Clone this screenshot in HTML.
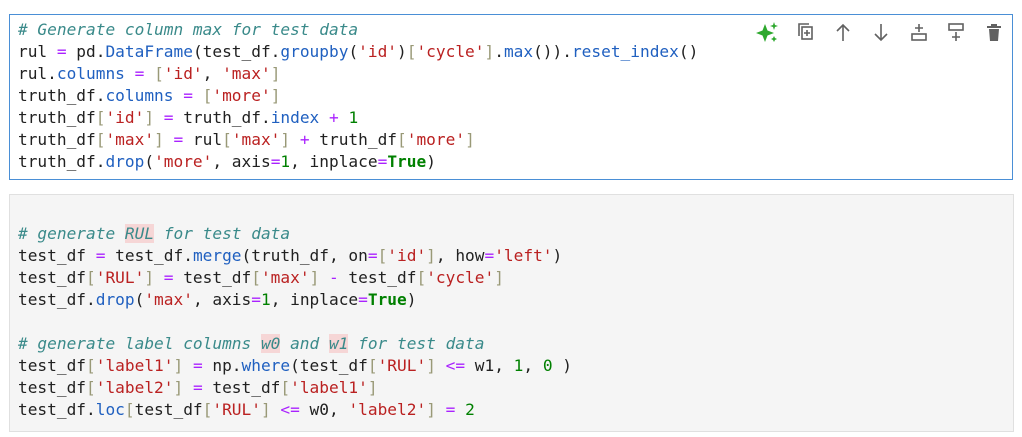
<!DOCTYPE html>
<html><head><style>
body{margin:0;width:1022px;height:437px;background:#fff;position:relative;overflow:hidden;font-family:"DejaVu Sans Mono","Liberation Mono",monospace;}
.c1{position:absolute;left:9px;top:14px;width:1002px;height:164px;border:1.5px solid #4a8fd6;background:#fff;}
.c2{position:absolute;left:9px;top:194px;width:1003px;height:236px;border:1px solid #e0e0e0;background:#f5f5f5;}
pre{margin:0;position:absolute;left:8px;font-family:inherit;font-size:16.15px;line-height:22px;color:#212121;}
.k{color:#3a8a8a;font-style:italic}
.o{color:#aa22ff}
.s{color:#ba2121}
.b{color:#999977}
.f{color:#2060c0}
.n{color:#008000}
.t{color:#008000;font-weight:bold}
.h{background:#f6d6d6}
</style></head><body>
<div class="c1">
<pre style="top:4px"><span class="k"># Generate column max for test data</span>
rul <span class="o">=</span> pd.<span class="f">DataFrame</span>(test_df.<span class="f">groupby</span>(<span class="s">'id'</span>)<span class="b">[</span><span class="s">'cycle'</span><span class="b">]</span>.<span class="f">max</span>()).<span class="f">reset_index</span>()
rul.<span class="f">columns</span> <span class="o">=</span> <span class="b">[</span><span class="s">'id'</span>, <span class="s">'max'</span><span class="b">]</span>
truth_df.<span class="f">columns</span> <span class="o">=</span> <span class="b">[</span><span class="s">'more'</span><span class="b">]</span>
truth_df<span class="b">[</span><span class="s">'id'</span><span class="b">]</span> <span class="o">=</span> truth_df.<span class="f">index</span> <span class="o">+</span> <span class="n">1</span>
truth_df<span class="b">[</span><span class="s">'max'</span><span class="b">]</span> <span class="o">=</span> rul<span class="b">[</span><span class="s">'max'</span><span class="b">]</span> <span class="o">+</span> truth_df<span class="b">[</span><span class="s">'more'</span><span class="b">]</span>
truth_df.<span class="f">drop</span>(<span class="s">'more'</span>, axis<span class="o">=</span><span class="n">1</span>, inplace<span class="o">=</span><span class="t">True</span>)</pre>
<svg style="position:absolute;left:745px;top:6px" width="250" height="22" viewBox="0 0 250 22">
<g fill="#2ea82e"><path d="M10 3 L12.5 9.5 L19 12 L12.5 14.5 L10 21 L7.5 14.5 L1 12 L7.5 9.5Z"/><path d="M19 1 L20 4 L23 5 L20 6 L19 9 L18 6 L15 5 L18 4Z"/><path d="M19 15 L20 17 L22 18 L20 19 L19 21 L18 19 L16 18 L18 17Z"/></g>
<g fill="none" stroke="#616161" stroke-width="1.6">
<rect x="47" y="6" width="10" height="12"/><path d="M44 15 V3 H54"/><path d="M52 9 v6 M49 12 h6"/>
<path d="M88 20 V4 M82 10 L88 4 L94 10"/>
<path d="M126 3 V19 M120 13 L126 19 L132 13"/>
<rect x="157" y="13" width="14" height="6"/><path d="M164 3 v8 M160 7 h8"/>
<rect x="194" y="3" width="14" height="6"/><path d="M201 11 v9 M197 16 h8"/>
</g>
<path fill="#616161" d="M236 3 h6 v2 h4 v2 h-14 v-2 h4z M234 8 h10 l-1 12 h-8z"/>
</svg>
</div>
<div class="c2">
<pre style="top:28px"><span class="k"># generate <span class="h">RUL</span> for test data</span>
test_df <span class="o">=</span> test_df.<span class="f">merge</span>(truth_df, on<span class="o">=</span><span class="b">[</span><span class="s">'id'</span><span class="b">]</span>, how<span class="o">=</span><span class="s">'left'</span>)
test_df<span class="b">[</span><span class="s">'RUL'</span><span class="b">]</span> <span class="o">=</span> test_df<span class="b">[</span><span class="s">'max'</span><span class="b">]</span> <span class="o">-</span> test_df<span class="b">[</span><span class="s">'cycle'</span><span class="b">]</span>
test_df.<span class="f">drop</span>(<span class="s">'max'</span>, axis<span class="o">=</span><span class="n">1</span>, inplace<span class="o">=</span><span class="t">True</span>)

<span class="k"># generate label columns <span class="h">w0</span> and <span class="h">w1</span> for test data</span>
test_df<span class="b">[</span><span class="s">'label1'</span><span class="b">]</span> <span class="o">=</span> np.<span class="f">where</span>(test_df<span class="b">[</span><span class="s">'RUL'</span><span class="b">]</span> <span class="o">&lt;=</span> w1, <span class="n">1</span>, <span class="n">0</span> )
test_df<span class="b">[</span><span class="s">'label2'</span><span class="b">]</span> <span class="o">=</span> test_df<span class="b">[</span><span class="s">'label1'</span><span class="b">]</span>
test_df.<span class="f">loc</span><span class="b">[</span>test_df<span class="b">[</span><span class="s">'RUL'</span><span class="b">]</span> <span class="o">&lt;=</span> w0, <span class="s">'label2'</span><span class="b">]</span> <span class="o">=</span> <span class="n">2</span></pre>
</div>
</body></html>
